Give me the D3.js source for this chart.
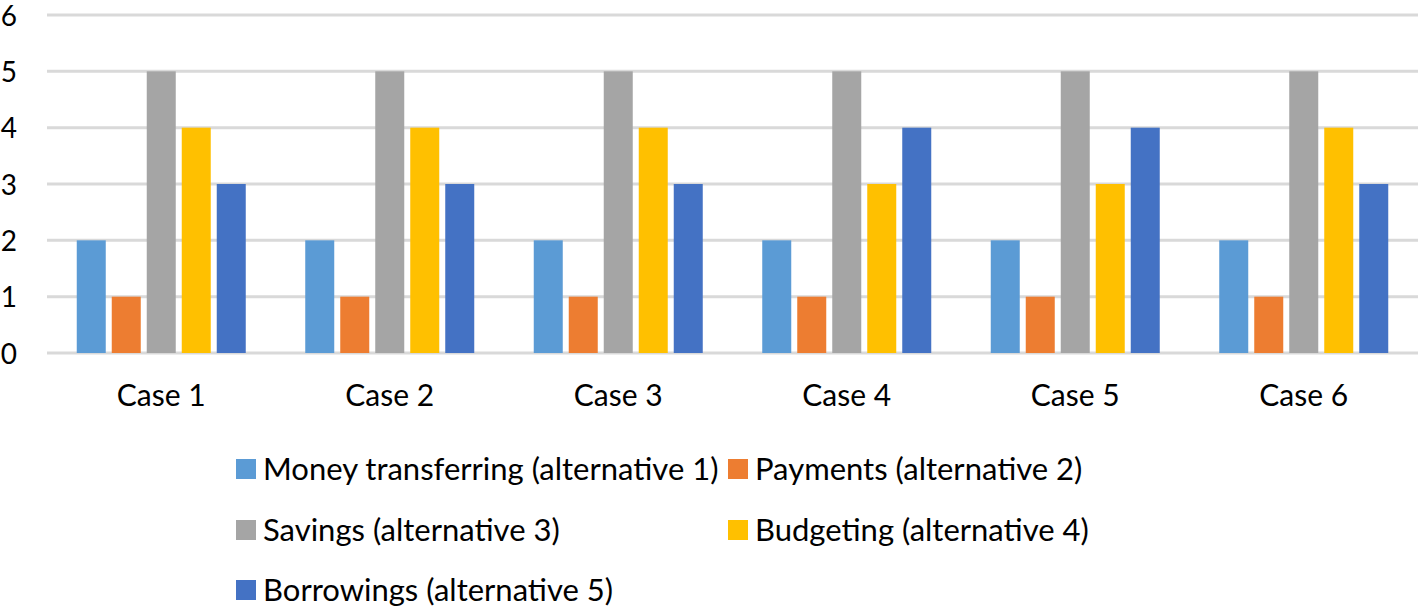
<!DOCTYPE html>
<html>
<head>
<meta charset="utf-8">
<script src="https://cdn.jsdelivr.net/npm/d3@7"></script>
<style>
  html, body { margin: 0; padding: 0; background: #fff; }
  svg { display: block; }
  text { font-family: Lato, "Open Sans", sans-serif; fill: #000; }
</style>
</head>
<body>
<svg id="chart" width="1424" height="609"></svg>
<script>
const categories = ["Case 1", "Case 2", "Case 3", "Case 4", "Case 5", "Case 6"];
const seriesNames = [
  "Money transferring (alternative 1)",
  "Payments (alternative 2)",
  "Savings (alternative 3)",
  "Budgeting (alternative 4)",
  "Borrowings (alternative 5)"
];
const moneyTransferring = [2, 2, 2, 2, 2, 2];
const payments = [1, 1, 1, 1, 1, 1];
const savings = [5, 5, 5, 5, 5, 5];
const budgeting = [4, 4, 4, 3, 3, 4];
const borrowings = [3, 3, 3, 4, 4, 3];
const yTicks = [0, 1, 2, 3, 4, 5, 6];
const colors = ["#5B9BD5", "#ED7D31", "#A5A5A5", "#FFC000", "#4472C4"];

const seriesValues = [moneyTransferring, payments, savings, budgeting, borrowings];

const svg = d3.select("#chart");
const plotLeft = 47, plotRight = 1418, plotTop = 15, plotBottom = 353;
const fontSize = 30;
const fontFam = "Lato, 'Open Sans', sans-serif";

const x0 = d3.scaleBand().domain(categories).range([plotLeft, plotRight]).padding(0);
const groupW = 169;
const x1 = d3.scaleBand().domain(seriesNames)
  .range([(x0.step() - groupW) / 2, (x0.step() + groupW) / 2])
  .paddingInner(6 / 35).paddingOuter(0);
const y = d3.scaleLinear().domain([0, 6]).range([plotBottom, plotTop]);

// gridlines
svg.append("g").selectAll("line").data(yTicks).join("line")
  .attr("x1", plotLeft).attr("x2", plotRight)
  .attr("y1", d => y(d)).attr("y2", d => y(d))
  .attr("stroke", "#D9D9D9").attr("stroke-width", 3);

// y axis labels
const yAxis = d3.axisLeft(y).tickValues(yTicks).tickSize(0).tickPadding(0).tickFormat(d3.format("d"));
const yg = svg.append("g").attr("transform", `translate(17,0)`).call(yAxis);
yg.select(".domain").remove();
yg.selectAll("text").attr("font-size", 28).attr("font-family", fontFam).attr("fill", "#000")
  .attr("dy", "0.36em");

// x axis labels
const xAxis = d3.axisBottom(x0).tickSize(0).tickPadding(0);
const xg = svg.append("g").attr("transform", `translate(0,${plotBottom})`).call(xAxis);
xg.select(".domain").remove();
xg.selectAll("text").attr("font-size", fontSize).attr("font-family", fontFam).attr("fill", "#000")
  .attr("dy", null).attr("y", 53);

// bars
const groups = svg.append("g").selectAll("g").data(categories).join("g")
  .attr("transform", d => `translate(${x0(d)},0)`);
groups.selectAll("rect")
  .data((c, ci) => seriesNames.map((s, si) => ({ s, si, v: seriesValues[si][ci] })))
  .join("rect")
  .attr("x", d => x1(d.s))
  .attr("width", x1.bandwidth())
  .attr("y", d => y(d.v))
  .attr("height", d => y(0) - y(d.v))
  .attr("fill", d => colors[d.si]);

// legend
const legendPos = [
  { x: 236, y: 469 }, { x: 728, y: 469 },
  { x: 236, y: 530 }, { x: 728, y: 530 },
  { x: 236, y: 590 }
];
const lg = svg.append("g").selectAll("g").data(seriesNames).join("g")
  .attr("transform", (d, i) => `translate(${legendPos[i].x},${legendPos[i].y})`);
lg.append("rect").attr("x", 0).attr("y", -10).attr("width", 20).attr("height", 20)
  .attr("fill", (d, i) => colors[i]);
lg.append("text").attr("x", 27).attr("y", 0).attr("dy", "0.35em")
  .attr("font-size", 31).attr("font-family", fontFam).text(d => d);
</script>
</body>
</html>
